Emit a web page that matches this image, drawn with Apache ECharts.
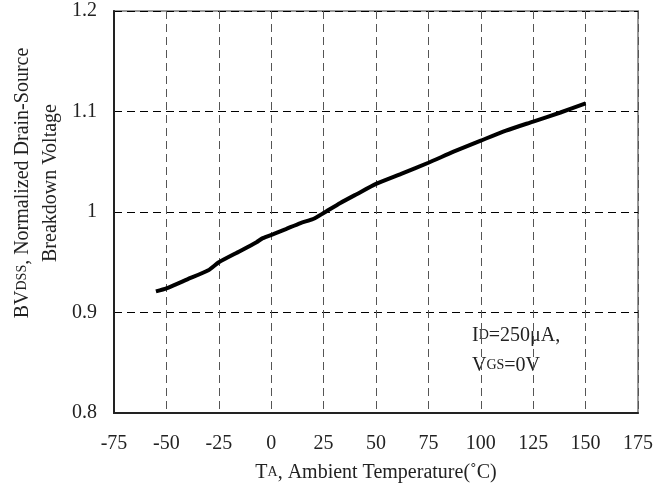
<!DOCTYPE html>
<html>
<head>
<meta charset="utf-8">
<script src="https://cdn.jsdelivr.net/npm/echarts@6/dist/echarts.min.js"></script>
<style>
html,body{margin:0;padding:0;background:#fff;}
#main{width:670px;height:493px;}
</style>
</head>
<body>
<div id="main"></div>
<script>
// Data
const temperatures = [-55,-50,-40,-30,-25,-15,-7,-4,1,7,14,20,25,33,41,50,62,75,87,100,112,125,138,150];
const normalizedBV = [0.921,0.924,0.933,0.942,0.950,0.961,0.970,0.974,0.978,0.983,0.989,0.993,0.999,1.009,1.018,1.028,1.038,1.049,1.060,1.071,1.081,1.090,1.099,1.108];
const xTicks = [-75,-50,-25,0,25,50,75,100,125,150,175];
const yTicks = [0.8,0.9,1.0,1.1,1.2];

const FONT = '"Liberation Serif", "Times New Roman", serif';
const TXT = '#222';

const chart = echarts.init(document.getElementById('main'), null, {renderer:'canvas'});
const seriesData = temperatures.map((t,i)=>[t, normalizedBV[i]]);

const subStyle = {fontFamily: FONT, fontSize: 14, color: TXT, fill: TXT, verticalAlign: 'bottom', lineHeight: 14, padding: [0,0,4,0]};
const mainStyle = {fontFamily: FONT, fontSize: 20, color: TXT, fill: TXT, verticalAlign: 'bottom', lineHeight: 20};

chart.setOption({
  animation: false,
  backgroundColor: '#fff',
  grid: {left: 114, right: 32, top: 11, bottom: 80, show: true, borderColor: '#999', borderWidth: 2},
  xAxis: {
    type: 'value',
    min: xTicks[0], max: xTicks[xTicks.length-1], interval: 25,
    axisLine: {show: true, onZero: false, lineStyle: {color: '#222', width: 2}},
    axisTick: {show: false},
    axisLabel: {margin: 21, fontFamily: FONT, fontSize: 20, color: TXT},
    splitLine: {show: true, lineStyle: {color: '#555', width: 1, type: [8,5]}},
    name: '{m|T}{s|A}{m|, Ambient Temperature(˚C)}',
    nameLocation: 'middle',
    nameGap: 50,
    nameTextStyle: {rich: {m: mainStyle, s: subStyle}}
  },
  yAxis: {
    type: 'value',
    min: yTicks[0], max: yTicks[yTicks.length-1], interval: 0.1,
    axisLine: {show: true, onZero: false, lineStyle: {color: '#222', width: 2}},
    axisTick: {show: false},
    axisLabel: {margin: 17, fontFamily: FONT, fontSize: 20, color: TXT,
      formatter: v => String(+v.toFixed(1))},
    splitLine: {show: true, lineStyle: {color: '#000', width: 1, type: [8,5]}}
  },
  graphic: [
    {type: 'text', x: 23, y: 183, rotation: Math.PI/2,
      style: {text: '{m|BV}{s|DSS}{m|, Normalized Drain-Source}', align: 'center', verticalAlign: 'middle',
        rich: {m: mainStyle, s: subStyle}}},
    {type: 'text', x: 51, y: 183, rotation: Math.PI/2,
      style: {text: 'Breakdown Voltage', align: 'center', verticalAlign: 'middle',
        font: '20px ' + FONT, fill: TXT}},
    {type: 'text', x: 472, y: 336,
      style: {text: '{m|I}{s|D}{m|=250μA,}', align: 'left', verticalAlign: 'middle',
        rich: {m: mainStyle, s: subStyle}}},
    {type: 'text', x: 472, y: 366,
      style: {text: '{m|V}{s|GS}{m|=0V}', align: 'left', verticalAlign: 'middle',
        rich: {m: mainStyle, s: subStyle}}}
  ],
  series: [{
    type: 'line',
    data: seriesData,
    showSymbol: false,
    smooth: 0.2,
    lineStyle: {color: '#000', width: 4},
    z: 5
  }]
});
</script>
</body>
</html>
